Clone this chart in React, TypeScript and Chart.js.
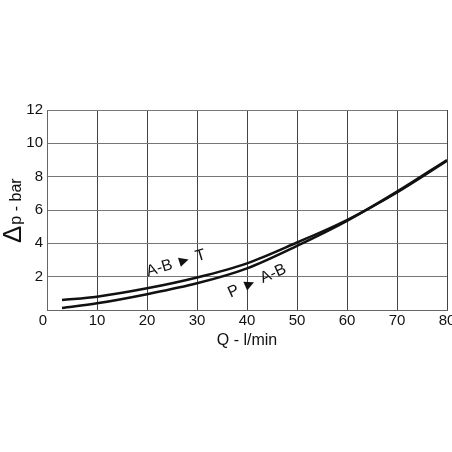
import React, { useEffect, useRef } from "react";
import { Chart, registerables } from "chart.js";

Chart.register(...registerables);

const flowQ = [3, 10, 20, 30, 40, 50, 60, 70, 80];
const dpABtoT = [0.6, 0.8, 1.3, 1.95, 2.8, 4.05, 5.4, 7.05, 8.95];
const dpPtoAB = [0.12, 0.4, 0.95, 1.6, 2.5, 3.85, 5.35, 7.1, 9.0];
const curveLabels = ["A-B ► T", "P ► A-B"];
const xTitle = "Q - l/min";
const yTitleSymbol = "Δ";
const yTitleRest = "p - bar";

const FONT = "'Liberation Sans', Arial, sans-serif";

const decorPlugin = {
  id: "decor",
  afterDraw(chart: any) {
    const ctx = chart.ctx;
    const xs = chart.scales.x;
    const ys = chart.scales.y;
    const area = chart.chartArea;
    ctx.save();
    ctx.fillStyle = "#111";
    ctx.font = `15px ${FONT}`;
    ctx.textAlign = "center";
    ctx.textBaseline = "middle";
    ctx.fillText("0", area.left - 4, area.bottom + 11);
    ctx.font = `16px ${FONT}`;
    ctx.fillText(xTitle, (area.left + area.right) / 2, area.bottom + 31);
    ctx.save();
    ctx.translate(21, 243);
    ctx.rotate(-Math.PI / 2);
    ctx.textAlign = "left";
    ctx.textBaseline = "alphabetic";
    ctx.font = `26px ${FONT}`;
    ctx.fillText(yTitleSymbol, 0, 0);
    const w = ctx.measureText(yTitleSymbol).width;
    ctx.font = `16px ${FONT}`;
    ctx.fillText(yTitleRest, w + 1, 0);
    ctx.restore();
    const anchors = [
      { q: 25.8, dp: 2.8, rot: -17 },
      { q: 42, dp: 1.74, rot: -24 },
    ];
    ctx.font = `16px ${FONT}`;
    ctx.textAlign = "center";
    ctx.textBaseline = "middle";
    anchors.forEach((a, i) => {
      ctx.save();
      ctx.translate(xs.getPixelForValue(a.q), ys.getPixelForValue(a.dp));
      ctx.rotate((a.rot * Math.PI) / 180);
      ctx.fillText(curveLabels[i], 0, 0);
      ctx.restore();
    });
    ctx.restore();
  },
};

export default function App() {
  const ref = useRef<HTMLCanvasElement | null>(null);
  useEffect(() => {
    if (!ref.current) return;
    const chart = new Chart(ref.current, {
      type: "line",
      data: {
        datasets: [
          {
            label: curveLabels[0],
            data: flowQ.map((q, i) => ({ x: q, y: dpABtoT[i] })),
            borderColor: "#111",
            borderWidth: 2.5,
            pointRadius: 0,
            cubicInterpolationMode: "monotone",
            fill: false,
          },
          {
            label: curveLabels[1],
            data: flowQ.map((q, i) => ({ x: q, y: dpPtoAB[i] })),
            borderColor: "#111",
            borderWidth: 2.5,
            pointRadius: 0,
            cubicInterpolationMode: "monotone",
            fill: false,
          },
        ],
      },
      options: {
        responsive: false,
        animation: false,
        layout: { padding: { left: 0, top: 110, right: 5, bottom: 0 } },
        plugins: { legend: { display: false }, tooltip: { enabled: false } },
        scales: {
          x: {
            type: "linear",
            min: 0,
            max: 80,
            ticks: {
              stepSize: 10,
              padding: 2,
              color: "#111",
              font: { family: FONT, size: 15 },
              maxRotation: 0,
              callback: (v: any) => (v === 0 ? "" : String(v)),
            },
            grid: { color: "#444", lineWidth: 1, drawTicks: false },
            border: { color: "#666", width: 1 },
            afterFit: (s: any) => {
              s.height = 142;
              s.paddingLeft = 0;
              s.paddingRight = 0;
            },
          },
          y: {
            type: "linear",
            min: 0,
            max: 12,
            ticks: {
              stepSize: 2,
              padding: 4,
              color: "#111",
              font: { family: FONT, size: 15 },
              callback: (v: any) => (v === 0 ? "" : String(v)),
            },
            grid: { color: "#777", lineWidth: 1, drawTicks: false },
            border: { color: "#666", width: 1 },
            afterFit: (s: any) => {
              s.width = 47;
              s.paddingTop = 0;
              s.paddingBottom = 0;
            },
          },
        },
      } as any,
      plugins: [decorPlugin],
    });
    return () => chart.destroy();
  }, []);
  return (
    <div style={{ position: "absolute", left: 0, top: 0, width: 452, height: 452, background: "#fff" }}>
      <canvas ref={ref} width={452} height={452} />
    </div>
  );
}
